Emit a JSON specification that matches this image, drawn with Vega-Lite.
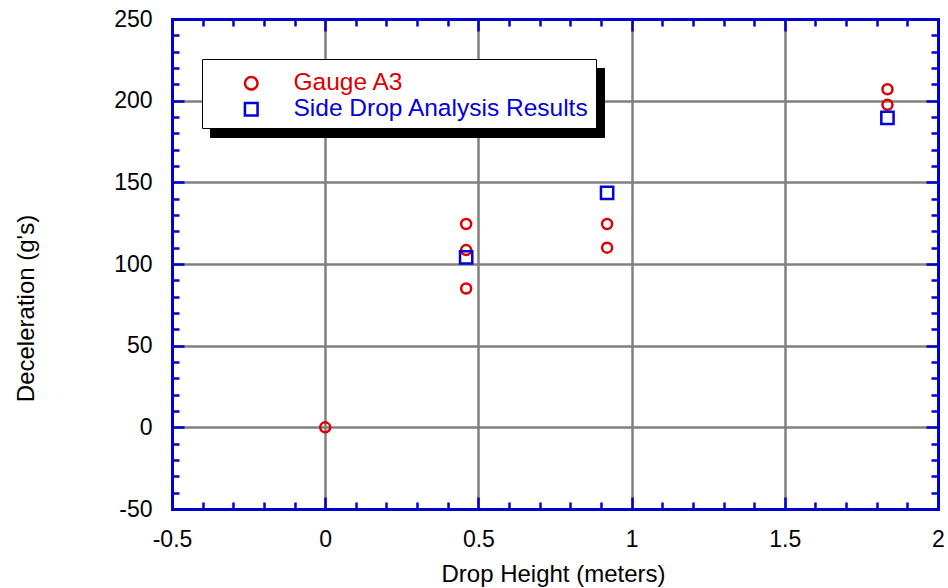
{
  "$schema": "https://vega.github.io/schema/vega-lite/v6.json",
  "width": 766,
  "height": 490,
  "autosize": {"type": "none"},
  "padding": {"left": 172, "top": 19, "right": 10, "bottom": 79},
  "background": "white",
  "config": {
    "view": {"stroke": null},
    "axis": {
      "labelFont": "Liberation Sans",
      "titleFont": "Liberation Sans",
      "labelColor": "black",
      "titleColor": "black",
      "labelFontSize": 23,
      "titleFontSize": 24,
      "titleFontWeight": "normal",
      "domainColor": "#0000cc",
      "domainWidth": 3,
      "domainCap": "square",
      "tickColor": "#0000cc",
      "tickWidth": 2.5,
      "gridColor": "#808080",
      "gridWidth": 2.5,
      "labelFlush": false,
      "labelOverlap": false
    },
    "legend": {
      "labelFont": "Liberation Sans", "labelFontSize": 24.5, "labelLimit": 500,
      "padding": 7, "symbolOffset": 30, "labelOffset": 30, "rowPadding": 1,
      "symbolSize": 160, "symbolStrokeWidth": 2.5,
      "titleFont": "Liberation Sans", "titleFontSize": 5, "titlePadding": 0, "titleColor": "white",
      "strokeColor": "black"
    }
  },
  "data": {
    "values": [
      {"height": 0, "decel": 0, "series": "Gauge A3"},
      {"height": 0.46, "decel": 124.5, "series": "Gauge A3"},
      {"height": 0.46, "decel": 108.5, "series": "Gauge A3"},
      {"height": 0.46, "decel": 85, "series": "Gauge A3"},
      {"height": 0.92, "decel": 124.5, "series": "Gauge A3"},
      {"height": 0.92, "decel": 110, "series": "Gauge A3"},
      {"height": 1.835, "decel": 207, "series": "Gauge A3"},
      {"height": 1.835, "decel": 197.5, "series": "Gauge A3"},
      {"height": 0.46, "decel": 104, "series": "Side Drop Analysis Results"},
      {"height": 0.92, "decel": 143.5, "series": "Side Drop Analysis Results"},
      {"height": 1.835, "decel": 189.5, "series": "Side Drop Analysis Results"}
    ]
  },
  "resolve": {"axis": {"x": "independent", "y": "independent"}},
  "layer": [
    {
      "transform": [{"filter": "datum.series === 'Gauge A3'"}],
      "mark": {"type": "point", "filled": false, "size": 100, "strokeWidth": 2.5, "opacity": 1},
      "encoding": {
        "x": {
          "field": "height", "type": "quantitative",
          "scale": {"domain": [-0.5, 2], "nice": false, "zero": false},
          "axis": {
            "orient": "bottom",
            "values": [-0.5, 0, 0.5, 1, 1.5, 2],
            "labelExpr": "datum.value + ''",
            "tickSize": -12,
            "labelPadding": 31,
            "grid": true,
            "title": "Drop Height (meters)",
            "titleX": 381,
            "titleY": 72,
            "titleBaseline": "alphabetic"
          }
        },
        "y": {
          "field": "decel", "type": "quantitative",
          "scale": {"domain": [-50, 250], "nice": false, "zero": false},
          "axis": {
            "orient": "left",
            "values": [-50, 0, 50, 100, 150, 200, 250],
            "labelExpr": "datum.value + ''",
            "tickSize": -12,
            "labelPadding": 32,
            "grid": true,
            "title": "Deceleration (g's)",
            "titleX": -146,
            "titleY": 289,
            "titleAngle": -90,
            "titleBaseline": "middle",
            "titleAlign": "center"
          }
        },
        "color": {
          "field": "series", "type": "nominal",
          "scale": {"domain": ["Gauge A3", "Side Drop Analysis Results"], "range": ["#dd0000", "#0000dd"]},
          "legend": {
            "orient": "none", "legendX": 30, "legendY": 40, "title": " ",
            "fillColor": "white", "zindex": 2,
            "labelColor": {"expr": "datum.value === 'Gauge A3' ? '#dd0000' : '#0000dd'"},
            "encode": {
              "legend": {"update": {"strokeWidth": {"value": 3}}},
              "symbols": {"update": {"size": {"signal": "datum.value === 'Gauge A3' ? 100 : 150"}}}
            }
          }
        },
        "shape": {
          "field": "series", "type": "nominal",
          "scale": {"domain": ["Gauge A3", "Side Drop Analysis Results"], "range": ["circle", "square"]},
          "legend": {
            "orient": "none", "legendX": 30, "legendY": 40, "title": " ",
            "fillColor": "white", "zindex": 2,
            "labelColor": {"expr": "datum.value === 'Gauge A3' ? '#dd0000' : '#0000dd'"},
            "encode": {
              "legend": {"update": {"strokeWidth": {"value": 3}}},
              "symbols": {"update": {"size": {"signal": "datum.value === 'Gauge A3' ? 100 : 150"}}}
            }
          }
        }
      }
    },
    {
      "transform": [{"filter": "datum.series === 'Side Drop Analysis Results'"}],
      "mark": {"type": "point", "filled": false, "size": 150, "strokeWidth": 2.5, "opacity": 1},
      "encoding": {
        "x": {
          "field": "height", "type": "quantitative",
          "scale": {"domain": [-0.5, 2], "nice": false, "zero": false},
          "axis": {"orient": "top", "values": [-0.5, 0, 0.5, 1, 1.5, 2], "tickSize": -12, "labels": false, "grid": false, "title": null}
        },
        "y": {
          "field": "decel", "type": "quantitative",
          "scale": {"domain": [-50, 250], "nice": false, "zero": false},
          "axis": {"orient": "right", "values": [-50, 0, 50, 100, 150, 200, 250], "tickSize": -12, "labels": false, "grid": false, "title": null}
        },
        "color": {
          "field": "series", "type": "nominal",
          "scale": {"domain": ["Gauge A3", "Side Drop Analysis Results"], "range": ["#dd0000", "#0000dd"]},
          "legend": {
            "orient": "none", "legendX": 30, "legendY": 40, "title": " ",
            "fillColor": "white", "zindex": 2,
            "labelColor": {"expr": "datum.value === 'Gauge A3' ? '#dd0000' : '#0000dd'"},
            "encode": {
              "legend": {"update": {"strokeWidth": {"value": 3}}},
              "symbols": {"update": {"size": {"signal": "datum.value === 'Gauge A3' ? 100 : 150"}}}
            }
          }
        },
        "shape": {
          "field": "series", "type": "nominal",
          "scale": {"domain": ["Gauge A3", "Side Drop Analysis Results"], "range": ["circle", "square"]},
          "legend": {
            "orient": "none", "legendX": 30, "legendY": 40, "title": " ",
            "fillColor": "white", "zindex": 2,
            "labelColor": {"expr": "datum.value === 'Gauge A3' ? '#dd0000' : '#0000dd'"},
            "encode": {
              "legend": {"update": {"strokeWidth": {"value": 3}}},
              "symbols": {"update": {"size": {"signal": "datum.value === 'Gauge A3' ? 100 : 150"}}}
            }
          }
        }
      }
    },
    {
      "mark": {"type": "point", "opacity": 0},
      "encoding": {
        "x": {
          "field": "height", "type": "quantitative",
          "scale": {"domain": [-0.5, 2], "nice": false, "zero": false},
          "axis": {"orient": "bottom", "values": [-0.4, -0.3, -0.2, -0.1, 0.1, 0.2, 0.3, 0.4, 0.6, 0.7, 0.8, 0.9, 1.1, 1.2, 1.3, 1.4, 1.6, 1.7, 1.8, 1.9], "tickSize": -7, "labels": false, "grid": false, "domain": false, "title": null}
        },
        "y": {
          "field": "decel", "type": "quantitative",
          "scale": {"domain": [-50, 250], "nice": false, "zero": false},
          "axis": {"orient": "left", "values": [-40, -30, -20, -10, 10, 20, 30, 40, 60, 70, 80, 90, 110, 120, 130, 140, 160, 170, 180, 190, 210, 220, 230, 240], "tickSize": -7, "labels": false, "grid": false, "domain": false, "title": null}
        },
        "size": {
          "field": "series", "type": "nominal",
          "scale": {"domain": ["Side Drop Analysis Results", "Gauge A3"], "range": [160, 160]},
          "legend": {
            "orient": "none", "legendX": 38, "legendY": 49, "title": " ",
            "fillColor": "black", "titleColor": "black",
            "symbolOpacity": 0, "labelOpacity": 0, "zindex": 1,
            "encode": {"legend": {"update": {"strokeWidth": {"value": 3}}}}
          }
        }
      }
    },
    {
      "mark": {"type": "point", "opacity": 0},
      "encoding": {
        "x": {
          "field": "height", "type": "quantitative",
          "scale": {"domain": [-0.5, 2], "nice": false, "zero": false},
          "axis": {"orient": "top", "values": [-0.4, -0.3, -0.2, -0.1, 0.1, 0.2, 0.3, 0.4, 0.6, 0.7, 0.8, 0.9, 1.1, 1.2, 1.3, 1.4, 1.6, 1.7, 1.8, 1.9], "tickSize": -7, "labels": false, "grid": false, "domain": false, "title": null}
        },
        "y": {
          "field": "decel", "type": "quantitative",
          "scale": {"domain": [-50, 250], "nice": false, "zero": false},
          "axis": {"orient": "right", "values": [-40, -30, -20, -10, 10, 20, 30, 40, 60, 70, 80, 90, 110, 120, 130, 140, 160, 170, 180, 190, 210, 220, 230, 240], "tickSize": -7, "labels": false, "grid": false, "domain": false, "title": null}
        }
      }
    }
  ]
}
